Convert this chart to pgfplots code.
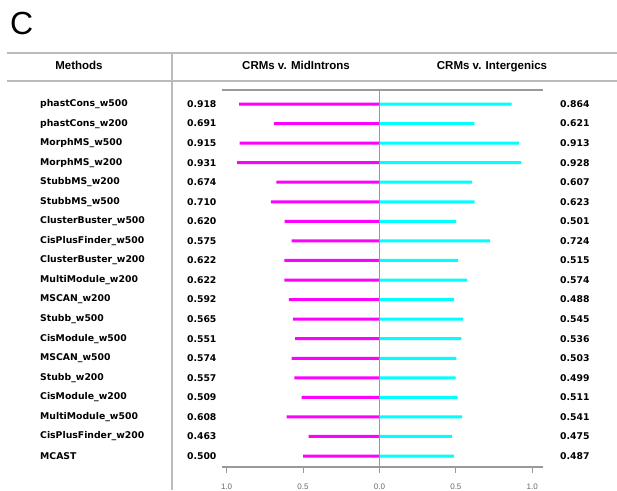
\documentclass[border=0pt]{standalone}
\usepackage{pgfplots}
\pgfplotsset{compat=1.18}
\usepackage{pgfplotstable}
\usepackage{fontspec}
\setmainfont{Liberation Sans}
\newfontfamily\dvs{DejaVu Sans}
\definecolor{mag}{HTML}{FF00FF}
\definecolor{cya}{HTML}{00FFFF}
\definecolor{rulec}{HTML}{BBBBBB}
\definecolor{axc}{HTML}{999999}

\pgfplotstableread{
row name mid inter
1 phastCons\_w500 0.918 0.864
2 phastCons\_w200 0.691 0.621
3 MorphMS\_w500 0.915 0.913
4 MorphMS\_w200 0.931 0.928
5 StubbMS\_w200 0.674 0.607
6 StubbMS\_w500 0.710 0.623
7 ClusterBuster\_w500 0.620 0.501
8 CisPlusFinder\_w500 0.575 0.724
9 ClusterBuster\_w200 0.622 0.515
10 MultiModule\_w200 0.622 0.574
11 MSCAN\_w200 0.592 0.488
12 Stubb\_w500 0.565 0.545
13 CisModule\_w500 0.551 0.536
14 MSCAN\_w500 0.574 0.503
15 Stubb\_w200 0.557 0.499
16 CisModule\_w200 0.509 0.511
17 MultiModule\_w500 0.608 0.541
18 CisPlusFinder\_w200 0.463 0.475
19 MCAST 0.500 0.487
}\data

\begin{document}
\begin{tikzpicture}[x=1pt,y=1pt]
\useasboundingbox (0,0) rectangle (617,490);
\node[anchor=base west, inner sep=0pt, font=\fontsize{32}{32}\selectfont] at (10,455) {C};
\draw[rulec, line width=1.5pt] (7,437) -- (617,437);
\draw[rulec, line width=1.5pt] (7,409) -- (617,409);
\draw[rulec, line width=1.5pt] (172,437) -- (172,0);
\node[anchor=base, inner sep=0pt, font=\bfseries\fontsize{11.5}{13}\selectfont] at (79,420) {Methods};
\node[anchor=base, inner sep=0pt, font=\bfseries\fontsize{11.5}{13}\selectfont] at (296,420) {CRMs v. MidIntrons};
\node[anchor=base, inner sep=0pt, font=\bfseries\fontsize{11.5}{13}\selectfont] at (492,420) {CRMs v. Intergenics};
\begin{axis}[
  at={(222pt,23pt)}, anchor=south west,
  width=321pt, height=377pt, scale only axis,
  xmin=-1.03, xmax=1.07, ymin=0.284, ymax=19.56,
  y dir=reverse, clip=false,
  axis line style={draw=none},
  tick align=outside, major tick length=6pt,
  xtick={-1,-0.5,0,0.5,1},
  xticklabels={1.0,0.5,0.0,0.5,1.0},
  xtick pos=left,
  xtick style={axc, line width=0.8pt},
  xticklabel style={font=\fontsize{8}{9}\selectfont, text=gray!80!black, yshift=-7pt},
  ytick={1,...,19},
  yticklabels from table={\data}{name},
  ytick style={draw=none},
  yticklabel style={anchor=west, inner sep=0pt, xshift=-176pt, font=\dvs\bfseries\fontsize{9.3}{11}\selectfont},
]
\addplot[xbar, bar shift=0pt, bar width=3pt, fill=mag, draw=none] table[x expr=-\thisrow{mid}, y=row]{\data};
\addplot[xbar, bar shift=0pt, bar width=3pt, fill=cya, draw=none] table[x=inter, y=row]{\data};
\addplot[draw=none, mark=none, point meta=explicit symbolic, nodes near coords,
  every node near coord/.style={anchor=west, inner sep=0pt, font=\dvs\bfseries\fontsize{9.3}{11}\selectfont}]
  table[x expr=-1.26, y=row, meta=mid]{\data};
\addplot[draw=none, mark=none, point meta=explicit symbolic, nodes near coords,
  every node near coord/.style={anchor=west, inner sep=0pt, font=\dvs\bfseries\fontsize{9.3}{11}\selectfont}]
  table[x expr=1.181, y=row, meta=inter]{\data};
\draw[axc, line width=1pt] (axis cs:0,0.284) -- (axis cs:0,19.56);
\draw[axc, line width=1.2pt] (axis cs:-1.03,0.284) -- (axis cs:1.07,0.284);
\draw[axc, line width=1.2pt] (axis cs:-1.03,19.56) -- (axis cs:1.07,19.56);
\end{axis}
\end{tikzpicture}
\end{document}
